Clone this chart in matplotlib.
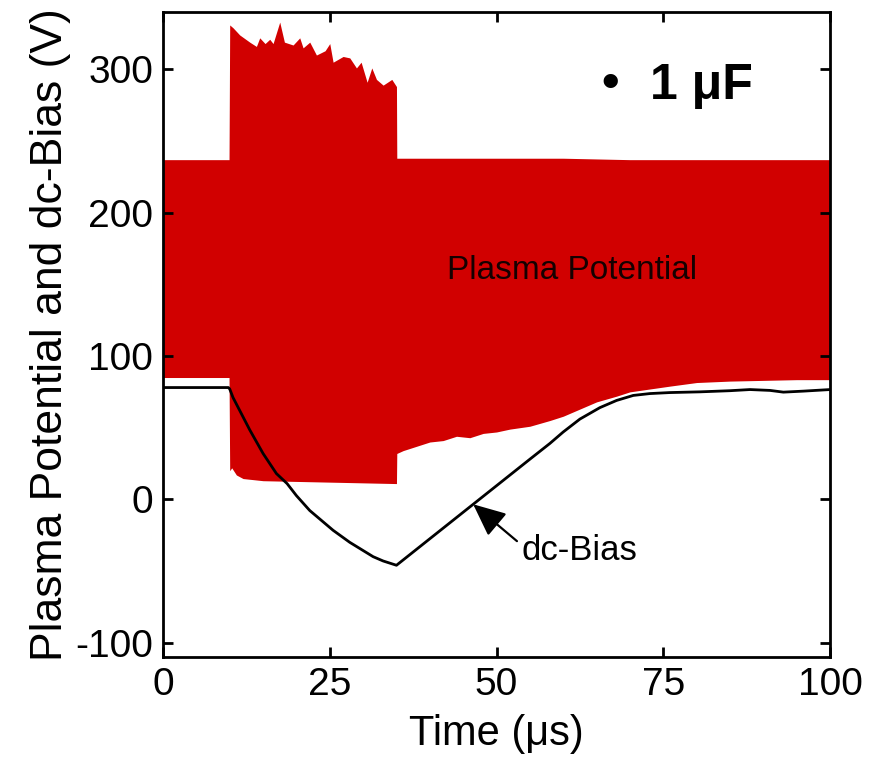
import matplotlib
matplotlib.use("Agg")
import matplotlib.pyplot as plt
import numpy as np

plt.rcParams['font.family'] = ['Liberation Sans', 'DejaVu Sans']
plt.rcParams['axes.unicode_minus'] = False

# Plasma potential: envelope of the RF oscillation (upper / lower extremes)
upper_t = [0, 5, 9.9, 10.0, 10.5, 11.5, 13.0, 14.0, 14.5, 15.3, 16.0, 16.5, 17.5,
           18.2, 19.5, 20.5, 21.0, 22.0, 23.0, 24.3, 25.0, 25.5, 27.0, 28.0, 29.0,
           29.7, 30.6, 31.3, 32.0, 33.0, 34.3, 35.0, 35.05, 40, 50, 60, 70, 80, 90, 100]
upper_v = [237, 237, 237, 331, 329, 324, 319, 316, 322, 318, 321, 318, 333,
           319, 317, 322, 315, 319, 310, 313, 318, 305, 309, 308, 301,
           305, 291, 301, 293, 289, 293, 288, 238, 238, 238, 238, 237, 237, 237, 237]

lower_t = [0, 5, 9.9, 10.0, 10.3, 11.0, 12.0, 15, 20, 25, 30, 35.0, 35.05, 36, 38,
           40, 42, 44, 46, 48, 50, 52, 55, 58, 60, 62, 65, 68, 70, 73, 76, 80,
           85, 90, 95, 100]
lower_v = [85, 85, 85, 20, 22, 17, 14.5, 13, 12.5, 12, 11.5, 11, 32, 34, 37,
           40, 41, 44, 43, 46, 47, 49, 51, 55, 58, 62, 68, 72, 75, 77, 79, 81.5,
           82.5, 83, 83.5, 83.5]

# dc self-bias
bias_t = [0, 5, 9.8, 10.0, 10.5, 11.5, 13, 15, 17, 18.6, 20, 22, 25.5, 28, 31.5,
          33, 35, 40, 45, 50, 55, 58, 60, 62.5, 65.5, 68, 70.5, 73, 76, 80.5,
          85, 88, 91, 93, 96, 100]
bias_v = [78, 78, 78, 77, 71, 62, 48.5, 32, 18, 11, 2.6, -7.8, -21.6, -30, -40,
          -43, -46, -27.5, -9, 9.5, 28, 39, 47, 56, 64, 69, 72.5, 73.8, 74.5, 75,
          75.8, 76.6, 76, 74.8, 75.5, 76.6]

x_ticks = [0, 25, 50, 75, 100]
y_ticks = [-100, 0, 100, 200, 300]

red = '#d10000'

fig = plt.figure(figsize=(8.74, 7.57), dpi=100)
ax = fig.add_axes([0.1865, 0.1321, 0.7632, 0.8520])

# fill between the two envelopes on a common time grid
tt = np.union1d(upper_t, lower_t)
up = np.interp(tt, upper_t, upper_v)
lo = np.interp(tt, lower_t, lower_v)
ax.fill_between(tt, lo, up, color=red, lw=0, zorder=1)

ax.plot(bias_t, bias_v, color='black', lw=2.0, zorder=3)

ax.set_xlim(0, 100)
ax.set_ylim(-110, 340)
ax.set_xticks(x_ticks)
ax.set_yticks(y_ticks)
ax.tick_params(direction='in', length=7, width=2.0, labelsize=28,
               top=True, right=True, pad=7)
for s in ax.spines.values():
    s.set_linewidth(2.0)

ax.set_xlabel('Time (\u03bcs)', fontsize=30, labelpad=8)
ax.set_ylabel('Plasma Potential and dc-Bias (V)', fontsize=32, labelpad=3)

ax.text(61.3, 160, 'Plasma Potential', fontsize=24, color='#150000',
        ha='center', va='center', zorder=4)

arrow_t = 46.5
arrow_v = float(np.interp(arrow_t, bias_t, bias_v))
ax.annotate('dc-Bias', xy=(arrow_t, arrow_v), xytext=(53.8, -35.5),
            fontsize=25, ha='left', va='center', zorder=4,
            arrowprops=dict(arrowstyle='-|>,head_length=1.0,head_width=0.45',
                            color='black', lw=1.6, relpos=(0, 0.65),
                            shrinkA=2, shrinkB=0, mutation_scale=20))

ax.text(67.0, 290, '\u2022', fontsize=36, fontweight='bold',
        ha='center', va='center', zorder=4)
ax.text(73.0, 279.5, '1 \u03bcF', fontsize=36, fontweight='bold',
        ha='left', va='baseline', zorder=4)

fig.savefig('out.png', dpi=100)
